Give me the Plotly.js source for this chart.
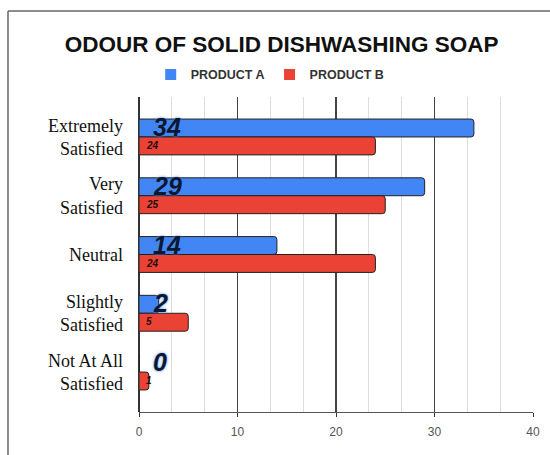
<!DOCTYPE html>
<html>
<head>
<meta charset="utf-8">
<script src="https://cdn.plot.ly/plotly-3.0.1.min.js"></script>
<style>html,body{margin:0;padding:0;background:#fff;}#chart{width:550px;height:455px;}</style>
</head>
<body>
<div id="chart"></div>
<script>
var categories = ["Extremely<br>Satisfied", "Very<br>Satisfied", "Neutral", "Slightly<br>Satisfied", "Not At All<br>Satisfied"];
var productA = [34, 29, 14, 2, 0];
var productB = [24, 25, 24, 5, 1];
var seriesNames = ["PRODUCT A", "PRODUCT B"];
var seriesColors = ["#4285F4", "#EA4335"];
var xTicks = [0, 10, 20, 30, 40];

function barTrace(vals, i) {
  return {
    type: "bar", orientation: "h", name: seriesNames[i], showlegend: false,
    y: categories, x: vals,
    marker: {color: seriesColors[i], line: {color: "#222", width: 1}, cornerradius: 3},
    hoverinfo: "x+name"
  };
}
function legendTrace(i) {
  return {
    type: "scatter", mode: "markers", name: seriesNames[i], x: [null], y: [null],
    marker: {symbol: "square", size: 11, color: seriesColors[i]}, hoverinfo: "skip"
  };
}

var annotations = [];
categories.forEach(function(c, k) {
  annotations.push({xref: "x", yref: "y", x: 0, y: c, text: String(productA[k]), showarrow: false,
    xanchor: "left", yanchor: "middle", xshift: 12, yshift: 10,
    font: {family: "Liberation Sans, Arial, sans-serif", size: 25, color: "#0c1730", weight: "bold", style: "italic", shadow: "0px 0px 3px #4a8cf7"}});
  annotations.push({xref: "x", yref: "y", x: 0, y: c, text: String(productB[k]), showarrow: false,
    xanchor: "left", yanchor: "middle", xshift: 5, yshift: -8.5,
    font: {family: "Liberation Sans, Arial, sans-serif", size: 10, color: "#2a0b08", weight: "bold", style: "italic"}});
});

var layout = {
  width: 550, height: 455,
  margin: {l: 139, r: 17, t: 97, b: 43},
  paper_bgcolor: "#fff", plot_bgcolor: "#fff",
  barmode: "group", bargap: 0.39, bargroupgap: 0,
  title: {text: "ODOUR OF SOLID DISHWASHING SOAP", xref: "paper", x: 0.362, xanchor: "center", yref: "container", y: 0.903, yanchor: "middle",
    font: {family: "Liberation Sans, Arial, sans-serif", size: 22.5, color: "#111", weight: "bold"}},
  showlegend: true,
  legend: {orientation: "h", x: 0.333, xanchor: "center", y: 1.07, yanchor: "middle", traceorder: "normal", itemwidth: 30,
    font: {family: "Liberation Sans, Arial, sans-serif", size: 12.5, color: "#333", weight: "bold"}},
  xaxis: {range: [0, 40], tickvals: xTicks, ticktext: xTicks.map(String), showgrid: true, gridcolor: "#444", gridwidth: 1.2,
    zeroline: true, zerolinecolor: "#333", zerolinewidth: 1.2,
    showline: true, linecolor: "#555", linewidth: 1.2, ticks: "outside", ticklen: 4, tickcolor: "#333",
    ticklabelstandoff: 4,
    tickfont: {family: "Liberation Sans, Arial, sans-serif", size: 12, color: "#555"},
    minor: {tick0: 0, dtick: 10/3, showgrid: true, gridcolor: "#dddddd", gridwidth: 1, ticks: ""},
    fixedrange: true},
  yaxis: {type: "category", range: [4.68, -0.68], showgrid: false, zeroline: false, showline: false, ticks: "",
    ticklabelstandoff: 15,
    tickfont: {family: "Liberation Serif, Times New Roman, serif", size: 18, color: "#111"}, fixedrange: true},
  annotations: annotations,
  shapes: [
    {type: "line", xref: "paper", yref: "paper", x0: -0.3325, x1: -0.3325, y0: -0.2, y1: 1.273, line: {color: "#666", width: 1.5}},
    {type: "line", xref: "paper", yref: "paper", x0: -0.3325, x1: 1.1, y0: 1.273, y1: 1.273, line: {color: "#666", width: 1.5}}
  ]
};

Plotly.newPlot("chart", [barTrace(productA, 0), barTrace(productB, 1), legendTrace(0), legendTrace(1)], layout, {displayModeBar: false, staticPlot: true});
</script>
</body>
</html>
